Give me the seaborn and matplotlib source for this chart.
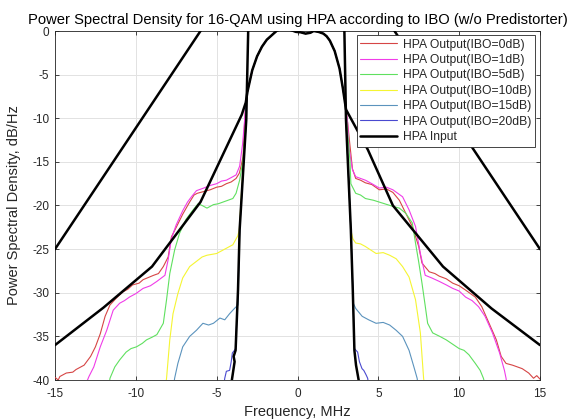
import numpy as np
import pandas as pd
import matplotlib
matplotlib.use("Agg")
import matplotlib.pyplot as plt
import seaborn as sns

# ---------------- data ----------------
title = "Power Spectral Density for 16-QAM using HPA according to IBO (w/o Predistorter)"
xlabel = "Frequency, MHz"
ylabel = "Power Spectral Density, dB/Hz"
xticks = [-15, -10, -5, 0, 5, 10, 15]
yticks = [0, -5, -10, -15, -20, -25, -30, -35, -40]

labels = ["HPA Output(IBO=0dB)", "HPA Output(IBO=1dB)", "HPA Output(IBO=5dB)",
          "HPA Output(IBO=10dB)", "HPA Output(IBO=15dB)", "HPA Output(IBO=20dB)"]
colors = ["#d64545", "#f03ce8", "#5fe05f", "#f5f532", "#5b93bd", "#4a4ad0"]

# shared in-band part of the spectrum
inband_f = [-3.2, -3.1, -2.8, -2.5, -2.2, -1.9, -1.6, -1.3, -1.0, -0.7, -0.4, -0.1,
            0.2, 0.5, 0.8, 1.0, 1.3, 1.6, 1.8, 2.0, 2.3, 2.6, 2.8, 3.0]
inband_db = [-8.2, -7.0, -4.5, -2.9, -1.8, -1.0, -0.5, 0.0, 0.3, 0.3, 0.1, -0.1,
             -0.15, -0.3, -0.2, 0.0, -0.1, -0.3, -0.6, -1.1, -2.3, -4.3, -6.5, -9.0]

# IBO = 0 dB
ibo0_left_f = [-15, -14.8, -14.7, -14.3, -13.9, -13.7, -13.2, -12.8, -12.5, -12.2, -11.9,
               -11.6, -11.2, -10.8, -10.5, -10.2, -9.8, -9.55, -8.9, -8.6, -8.3, -8.0,
               -7.8, -7.5, -7.1, -6.67, -6.4, -6.2, -5.8, -5.4, -5.0, -4.7, -4.4, -4.1,
               -3.8, -3.6, -3.48, -3.37, -3.27]
ibo0_left_db = [-39.7, -40.0, -39.6, -39.2, -39.1, -38.8, -38.3, -37.3, -36.2, -34.7, -32.7,
                -31.4, -30.6, -29.9, -29.6, -29.1, -28.9, -28.5, -28.0, -27.8, -27.0, -25.9,
                -23.6, -22.5, -21.0, -19.6, -18.8, -18.6, -18.4, -18.2, -17.9, -17.8, -17.5, -17.3,
                -16.9, -16.3, -15.4, -14.4, -10.5]
ibo0_right_f = [3.1, 3.25, 3.4, 3.6, 3.9, 4.2, 4.6, 5.06, 5.5, 5.9, 6.3, 6.7, 7.1, 7.5,
                7.7, 8.15, 8.5, 8.77, 9.2, 9.6, 10.0, 10.4, 11.0, 11.4, 11.85, 12.3, 12.6,
                12.9, 13.3, 13.6, 13.9, 14.3, 14.6, 14.8, 15.0]
ibo0_right_db = [-10.5, -13.2, -15.8, -16.9, -17.1, -17.4, -17.6, -18.2, -18.1, -18.5, -19.4,
                 -20.9, -22.4, -24.7, -26.6, -27.6, -27.8, -28.1, -28.4, -28.9, -29.2, -29.7,
                 -30.5, -31.6, -33.5, -35.4, -37.3, -38.1, -38.3, -38.5, -38.7, -39.2, -39.8,
                 -39.5, -39.9]

# IBO = 1 dB
ibo1_left_f = [-13.1, -12.9, -12.6, -12.2, -11.8, -11.4, -11.0, -10.7, -10.4, -10.0, -9.55,
               -9.1, -8.7, -8.2, -8.0, -7.8, -7.5, -7.1, -6.8, -6.56, -6.25, -5.8, -5.4,
               -5.0, -4.7, -4.4, -4.1, -3.8, -3.58, -3.4, -3.27]
ibo1_left_db = [-40.5, -39.6, -38.5, -36.2, -34.3, -32.0, -31.2, -30.9, -30.5, -30.1, -29.5,
                -29.2, -28.7, -28.0, -26.2, -23.8, -22.2, -20.6, -19.6, -19.0, -18.3, -18.0,
                -17.7, -17.5, -17.2, -17.1, -16.8, -16.5, -15.5, -13.0, -10.2]
ibo1_right_f = [3.1, 3.2, 3.4, 3.6, 3.9, 4.2, 4.6, 5.06, 5.5, 5.9, 6.5, 6.9, 7.3, 7.6,
                7.9, 8.3, 8.77, 9.2, 9.6, 10.0, 10.4, 10.8, 11.2, 11.6, 12.06, 12.5, 12.8,
                12.9, 12.95]
ibo1_right_db = [-10.5, -13.6, -15.9, -16.7, -16.9, -17.1, -17.5, -18.0, -17.9, -18.2, -19.0,
                 -20.5, -22.4, -25.5, -28.0, -28.3, -28.7, -29.1, -29.5, -29.8, -30.5, -30.9,
                 -31.6, -32.7, -34.6, -36.9, -38.9, -39.8, -40.5]

# IBO = 5 dB
ibo5_left_f = [-11.65, -11.6, -11.3, -11.0, -10.6, -10.3, -9.96, -9.6, -9.34, -9.0, -8.7,
               -8.3, -8.1, -7.9, -7.6, -7.3, -6.9, -6.5, -6.15, -5.9, -5.6, -5.2, -4.9,
               -4.6, -4.3, -4.0, -3.8, -3.58, -3.37, -3.2]
ibo5_left_db = [-40.5, -39.8, -38.5, -37.7, -36.8, -36.4, -36.2, -35.8, -35.4, -35.1, -34.8,
                -33.5, -30.8, -27.8, -25.1, -23.2, -21.6, -20.6, -19.8, -20.0, -20.3, -19.9,
                -19.8, -19.6, -19.4, -19.2, -18.6, -17.1, -14.8, -10.5]
ibo5_right_f = [3.05, 3.25, 3.3, 3.6, 3.9, 4.2, 4.7, 5.3, 5.9, 6.3, 6.7, 7.1, 7.3, 7.5,
                7.7, 7.9, 8.05, 8.36, 8.8, 9.2, 9.6, 10.0, 10.3, 10.6, 11.0, 11.3, 11.5, 11.6]
ibo5_right_db = [-10.5, -15.0, -17.5, -18.6, -18.8, -19.2, -19.4, -19.75, -20.1, -20.3, -20.9,
                 -22.0, -24.3, -26.5, -28.9, -31.5, -33.5, -34.6, -35.0, -35.4, -35.9, -36.4,
                 -36.6, -37.1, -38.1, -38.9, -39.8, -40.5]

# IBO = 10 dB
ibo10_left_f = [-8.15, -8.1, -7.9, -7.7, -7.4, -7.1, -6.67, -6.25, -5.9, -5.6, -5.0, -4.7,
                -4.4, -4.0, -3.7, -3.6, -3.45, -3.17]
ibo10_left_db = [-40.5, -39.8, -35.4, -32.4, -30.1, -28.3, -27.0, -26.4, -25.9, -25.7, -25.5,
                 -25.2, -24.9, -24.5, -23.5, -22.8, -18.0, -10.2]
ibo10_right_f = [3.0, 3.3, 3.42, 3.6, 3.9, 4.2, 4.86, 5.3, 5.7, 6.1, 6.5, 6.9, 7.3, 7.6,
                 7.8, 7.85]
ibo10_right_db = [-10.2, -22.8, -23.8, -24.3, -24.4, -24.7, -25.5, -25.4, -25.7, -26.1, -27.0,
                  -28.2, -30.8, -34.6, -39.8, -40.5]

# IBO = 15 dB
ibo15_left_f = [-7.65, -7.6, -7.4, -7.1, -6.67, -6.25, -5.85, -5.5, -5.2, -4.8, -4.5, -4.2,
                -3.9, -3.68, -3.58, -3.17]
ibo15_left_db = [-40.5, -39.8, -38.1, -36.2, -35.0, -34.3, -33.5, -33.7, -33.5, -32.9, -33.1,
                 -32.4, -31.8, -31.4, -22.8, -10.2]
ibo15_right_f = [3.0, 3.3, 3.45, 3.6, 4.0, 4.4, 4.86, 5.3, 5.7, 6.1, 6.5, 6.9, 7.2, 7.4, 7.45]
ibo15_right_db = [-10.2, -22.8, -31.2, -31.8, -32.7, -33.1, -33.5, -33.4, -33.7, -34.3, -35.0,
                  -36.6, -38.5, -39.8, -40.5]

# IBO = 20 dB
ibo20_left_f = [-4.55, -4.5, -4.4, -4.2, -4.1, -4.03, -3.9, -3.83, -3.68, -3.58, -3.17]
ibo20_left_db = [-40.5, -39.8, -39.0, -38.9, -37.9, -36.9, -36.6, -36.4, -29.7, -22.8, -10.2]
ibo20_right_f = [3.0, 3.3, 3.42, 3.52, 3.72, 3.83, 3.99, 4.1, 4.24, 4.34, 4.4]
ibo20_right_db = [-10.2, -22.8, -29.7, -36.4, -36.8, -37.9, -38.7, -38.9, -39.4, -39.8, -40.5]

# HPA input: steep band edges
input_left_f = [-3.05, -3.17, -3.58, -3.68, -3.83, -3.95, -3.89, -4.1]
input_left_db = [0.0, -10.2, -22.8, -29.7, -36.6, -37.3, -37.9, -40.5]
input_right_f = [2.9, 3.0, 3.3, 3.42, 3.52, 3.62, 3.83]
input_right_db = [0.0, -10.2, -22.8, -29.7, -36.6, -38.3, -40.5]

# black reference curves (no legend entry)
inner_left_f = [-15, -12, -9, -6, -3.45]
inner_left_db = [-36.0, -31.7, -27.0, -19.6, -9.6]
inner_right_f = [4.35, 5.9, 9, 12, 15]
inner_right_db = [-13.6, -20.0, -27.0, -31.8, -36.0]
outer_left_f = [-15, -6]
outer_left_db = [-25.0, 0.0]
outer_right_f = [6, 15]
outer_right_db = [0.0, -25.0]

# ---------------- styling ----------------
sns.set_theme(style="whitegrid")
plt.rcParams["font.family"] = ["Liberation Sans", "DejaVu Sans"]
plt.rcParams["axes.unicode_minus"] = False

fig = plt.figure(figsize=(5.69, 4.19), dpi=100)
ax = fig.add_axes([55 / 569, 39 / 419, 485 / 569, 349 / 419])
ax.set_facecolor("white")

series = [
    (ibo0_left_f, ibo0_left_db, ibo0_right_f, ibo0_right_db),
    (ibo1_left_f, ibo1_left_db, ibo1_right_f, ibo1_right_db),
    (ibo5_left_f, ibo5_left_db, ibo5_right_f, ibo5_right_db),
    (ibo10_left_f, ibo10_left_db, ibo10_right_f, ibo10_right_db),
    (ibo15_left_f, ibo15_left_db, ibo15_right_f, ibo15_right_db),
    (ibo20_left_f, ibo20_left_db, ibo20_right_f, ibo20_right_db),
]

for (lf, ld, rf, rd), lab, col in zip(series, labels, colors):
    df = pd.DataFrame({"f": lf + inband_f + rf, "db": ld + inband_db + rd})
    sns.lineplot(data=df, x="f", y="db", sort=False, estimator=None, color=col,
                 lw=0.8, label=lab, ax=ax, zorder=3)

# black curves
df_in = pd.DataFrame({"f": inner_left_f + inband_f + inner_right_f,
                      "db": inner_left_db + inband_db + inner_right_db})
sns.lineplot(data=df_in, x="f", y="db", sort=False, estimator=None, color="black",
             lw=1.8, ax=ax, zorder=4, legend=False)
for fx, dbv in [(outer_left_f, outer_left_db), (outer_right_f, outer_right_db)]:
    sns.lineplot(x=fx, y=dbv, sort=False, estimator=None, color="black", lw=1.8,
                 ax=ax, zorder=4, legend=False)
sns.lineplot(x=input_left_f, y=input_left_db, sort=False, estimator=None, color="black",
             lw=1.8, ax=ax, zorder=5, label="HPA Input")
sns.lineplot(x=input_right_f, y=input_right_db, sort=False, estimator=None, color="black",
             lw=1.8, ax=ax, zorder=5, legend=False)

ax.set_xlim(-15, 15)
ax.set_ylim(-40, 0)
ax.set_xticks(xticks)
ax.set_yticks(yticks)
ax.set_xticklabels([str(v) for v in xticks])
ax.set_yticklabels([str(v) for v in yticks])
ax.grid(True, color="#e2e2e2", lw=0.7)
for s in ax.spines.values():
    s.set_visible(True)
    s.set_color("#262626")
    s.set_linewidth(0.6)
ax.tick_params(direction="in", length=3, width=0.6, colors="#262626", labelsize=8.5,
               top=True, right=True, bottom=True, left=True)
ax.tick_params(axis="x", pad=6)
ax.tick_params(axis="y", pad=4)

ax.set_title(title, fontsize=10.6, color="black", pad=5)
ax.set_xlabel(xlabel, fontsize=10.5, color="#262626", labelpad=3)
ax.set_ylabel(ylabel, fontsize=10.5, color="#262626", labelpad=8)

leg = ax.legend(loc="upper right", bbox_to_anchor=(480 / 485, 1 - 4 / 349),
                borderaxespad=0, fontsize=8.75, frameon=True, fancybox=False,
                framealpha=1, edgecolor="#262626", handlelength=3.0,
                handletextpad=0.5, labelspacing=0.28, borderpad=0.3)
leg.get_frame().set_linewidth(0.6)
for t in leg.get_texts():
    t.set_color("#262626")

fig.savefig("out.png", dpi=100)
